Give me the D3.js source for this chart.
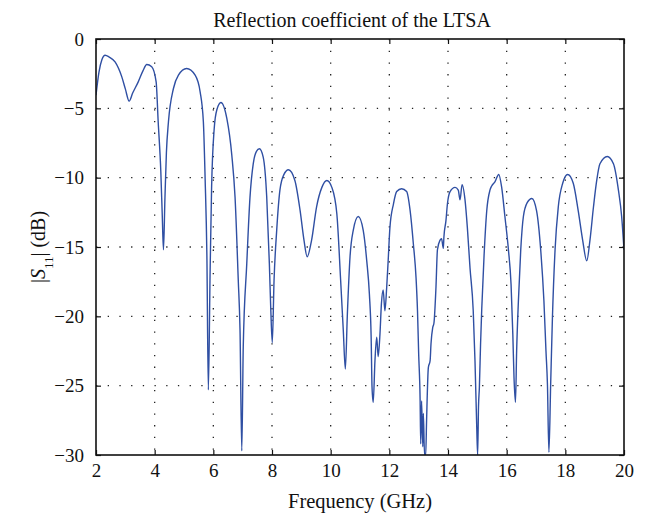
<!DOCTYPE html>
<html>
<head>
<meta charset="utf-8">
<script src="https://cdn.jsdelivr.net/npm/d3@7"></script>
<style>
  html, body { margin: 0; padding: 0; background: #fff; }
  svg { display: block; }
  text { font-family: "Liberation Serif", "DejaVu Serif", serif; fill: #111; }
</style>
</head>
<body>
<svg id="chart" width="648" height="516"></svg>
<script>
// Measured |S11| of the LTSA: frequency in GHz and magnitude in dB
const freqGHz = [
  2.00, 2.10, 2.20, 2.31, 2.45, 2.65, 2.88, 3.00, 3.13, 3.25, 3.44, 3.60, 3.73, 3.90, 4.05, 4.12, 4.21, 4.26, 4.30,
  4.35, 4.40, 4.47, 4.64, 4.81, 5.09, 5.38, 5.55, 5.66, 5.72, 5.78, 5.83, 5.89, 5.94, 6.03, 6.12, 6.26,
  6.46, 6.63, 6.74, 6.85, 6.91, 6.97, 7.02, 7.14, 7.25, 7.36, 7.47, 7.57, 7.70, 7.82, 7.91, 7.96, 8.01,
  8.07, 8.16, 8.27, 8.40, 8.56, 8.78, 8.96, 9.09, 9.20, 9.35, 9.52, 9.70, 9.87, 10.04, 10.21, 10.34,
  10.43, 10.50, 10.57, 10.66, 10.77, 10.94, 11.11, 11.23, 11.32, 11.38, 11.41, 11.45, 11.51, 11.57,
  11.62, 11.68, 11.73, 11.79, 11.85, 11.91, 11.96, 12.02, 12.14, 12.25, 12.42, 12.59, 12.71, 12.82,
  12.91, 12.96, 13.00, 13.05, 13.07, 13.10, 13.14, 13.16, 13.20, 13.24, 13.27, 13.33, 13.39, 13.42,
  13.48, 13.52, 13.59, 13.64, 13.73, 13.78, 13.84, 13.86, 13.93, 13.98, 14.07, 14.24, 14.35, 14.41,
  14.48, 14.58, 14.66, 14.75, 14.86, 14.92, 14.98, 15.01, 15.04, 15.07, 15.11, 15.15, 15.23, 15.32,
  15.43, 15.49, 15.60, 15.73, 15.83, 15.94, 16.06, 16.15, 16.21, 16.25, 16.30, 16.34, 16.40, 16.48,
  16.57, 16.70, 16.86, 17.02, 17.16, 17.27, 17.34, 17.39, 17.44, 17.50, 17.56, 17.65, 17.76, 17.91,
  18.08, 18.27, 18.44, 18.59, 18.73, 18.84, 18.96, 19.07, 19.18, 19.43, 19.64, 19.81, 19.92, 20.00
];
const s11dB = [
  -4.05, -2.4, -1.5, -1.17, -1.3, -1.65, -2.73, -3.6, -4.48, -3.9, -3.09, -2.3, -1.84, -2.0, -3.09, -5.97, -9.58, -12.8, -15.2,
  -11.5, -8.2, -5.97, -3.57, -2.61, -2.13, -2.61, -3.81, -5.97, -10.06, -15.6, -25.3, -16.8, -10.8, -6.45, -5.1, -4.58,
  -5.73, -8.38, -11.4, -17.4, -21.0, -29.7, -22.2, -16.2, -11.4, -9.0, -8.1, -7.92, -8.52, -11.4, -16.2, -19.6, -21.9,
  -17.4, -13.8, -10.9, -9.8, -9.43, -10.2, -12.4, -14.5, -15.7, -14.5, -12.1, -10.7, -10.2, -10.7, -12.6, -17.4,
  -21.0, -23.8, -19.8, -15.7, -13.8, -12.8, -13.8, -16.0, -18.4, -21.5, -25.1, -26.2, -23.2, -21.5,
  -22.9, -21.3, -19.1, -18.1, -19.6, -17.9, -16.0, -13.6, -11.9, -11.0, -10.8, -11.0, -12.4, -14.8,
  -17.2, -19.6, -22.7, -26.1, -29.2, -26.1, -29.4, -27.0, -30.0, -30.0, -27.5, -23.7, -23.2, -22.0,
  -20.8, -20.5, -17.9, -15.2, -14.5, -14.4, -15.1, -14.3, -13.1, -11.9, -11.0, -10.7, -10.9, -11.6,
  -10.5, -11.6, -13.6, -16.5, -19.6, -23.2, -28.0, -30.0, -26.5, -25.1, -22.0, -19.5, -15.6, -12.4,
  -10.9, -10.6, -10.3, -9.77, -10.7, -12.8, -15.2, -17.7, -21.3, -24.4, -26.2, -22.5, -18.9, -15.2,
  -12.8, -11.8, -11.5, -12.4, -15.2, -18.9, -22.5, -24.9, -29.8, -24.9, -20.1, -15.2, -12.1, -10.4,
  -9.77, -10.4, -12.4, -14.5, -16.0, -14.5, -12.1, -10.2, -9.0, -8.47, -9.0, -10.9, -12.8, -15.2
];
const xTicks = [2, 4, 6, 8, 10, 12, 14, 16, 18, 20];
const yTicks = [0, -5, -10, -15, -20, -25, -30];

const titleText = "Reflection coefficient of the LTSA";
const xLabelText = "Frequency (GHz)";

const svg = d3.select("#chart");
const margin = { left: 96, right: 24, top: 39, bottom: 61 };
const W = 648, H = 516;
const iw = W - margin.left - margin.right;
const ih = H - margin.top - margin.bottom;

const x = d3.scaleLinear().domain([2, 20]).range([0, iw]);
const y = d3.scaleLinear().domain([-30, 0]).range([ih, 0]);

const g = svg.append("g").attr("transform", `translate(${margin.left},${margin.top})`);

// dotted grid
const grid = g.append("g").attr("class", "grid");
grid.selectAll("line.vg").data(xTicks.slice(1, -1)).join("line")
  .attr("x1", d => x(d)).attr("x2", d => x(d))
  .attr("y1", 0).attr("y2", ih)
  .attr("stroke", "#222").attr("stroke-width", 1.3)
  .attr("stroke-dasharray", "1.3,10.4");
grid.selectAll("line.hg").data(yTicks.slice(1, -1)).join("line")
  .attr("y1", d => y(d)).attr("y2", d => y(d))
  .attr("x1", 0).attr("x2", iw)
  .attr("stroke", "#222").attr("stroke-width", 1.3)
  .attr("stroke-dasharray", "1.3,10.4");

// clip the trace to the plot box
svg.append("defs").append("clipPath").attr("id", "plotclip")
  .append("rect").attr("x", 0).attr("y", 0).attr("width", iw).attr("height", ih);

const pts = freqGHz.map((f, i) => [f, s11dB[i]]);
const line = d3.line().x(d => x(d[0])).y(d => y(d[1])).curve(d3.curveMonotoneX);
g.append("path")
  .datum(pts)
  .attr("clip-path", "url(#plotclip)")
  .attr("d", line)
  .attr("fill", "none")
  .attr("stroke", "#2f4fa3")
  .attr("stroke-width", 1.4)
  .attr("stroke-linejoin", "round");

// axes with inward ticks
const tickLen = 5;
const xAxis = d3.axisBottom(x).tickValues(xTicks).tickSize(-tickLen).tickPadding(9).tickFormat(d3.format("d"));
const yAxis = d3.axisLeft(y).tickValues(yTicks).tickSize(-tickLen).tickPadding(12)
  .tickFormat(d => d < 0 ? "\u2212" + Math.abs(d) : String(d));
const xTop = d3.axisTop(x).tickValues(xTicks).tickSize(-tickLen).tickFormat("");
const yRight = d3.axisRight(y).tickValues(yTicks).tickSize(-tickLen).tickFormat("");

function styleAxis(sel) {
  sel.select(".domain").remove();
  sel.selectAll(".tick line").attr("stroke", "#111").attr("stroke-width", 1.2);
  sel.selectAll(".tick text").style("font-family", "'Liberation Serif', serif").style("font-size", "19px").attr("fill", "#111");
}
g.append("g").attr("transform", `translate(0,${ih})`).call(xAxis).call(styleAxis);
g.append("g").call(yAxis).call(styleAxis);
g.append("g").call(xTop).call(styleAxis);
g.append("g").attr("transform", `translate(${iw},0)`).call(yRight).call(styleAxis);

// frame
g.append("rect").attr("x", 0).attr("y", 0).attr("width", iw).attr("height", ih)
  .attr("fill", "none").attr("stroke", "#111").attr("stroke-width", 1.6);

// title and axis labels
svg.append("text").attr("x", 352).attr("y", 27)
  .attr("text-anchor", "middle").style("font-size", "20px").text(titleText);
svg.append("text").attr("x", 360).attr("y", 508)
  .attr("text-anchor", "middle").style("font-size", "20.5px").text(xLabelText);

const yl = svg.append("text")
  .attr("transform", `translate(45,${margin.top + ih / 2}) rotate(-90)`)
  .attr("text-anchor", "middle").style("font-size", "20px");
yl.append("tspan").text("|");
yl.append("tspan").style("font-style", "italic").text("S");
yl.append("tspan").attr("baseline-shift", "sub").style("font-size", "13px").text("11");
yl.append("tspan").text("| (dB)");
</script>
</body>
</html>
